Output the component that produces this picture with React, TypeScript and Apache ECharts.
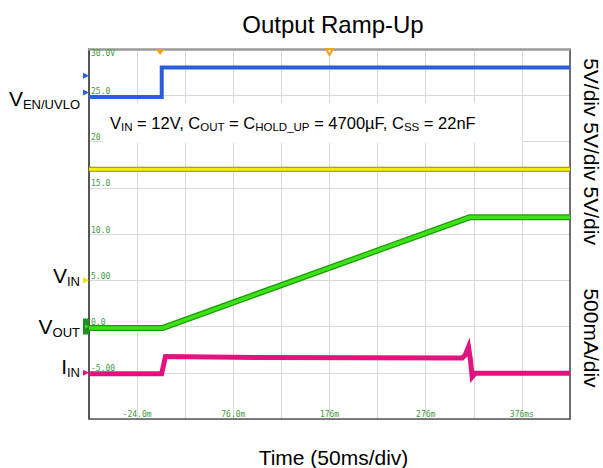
import React, { useEffect, useRef } from "react";
import * as echarts from "echarts";

// ---- axis scales (time in ms, volts on the scope's 5 V/div scale) ----
const timeMin = -74;
const timeMax = 426;
const timeStep = 50;
const voltMin = -10;
const voltMax = 30;
const voltStep = 5;

// ---- tick labels ----
const xTickValues = [-24, 76, 176, 276, 376];
const xTickLabels = ["-24.0m", "76.0m", "176m", "276m", "376ms"];
const yTickValues = [25, 20, 15, 10, 5, 0, -5];
const yTickLabels = ["25.0", "20", "15.0", "10.0", "5.00", "0.0", "-5.00"];
const yTopValue = 30;
const yTopLabel = "30.0V";

// ---- traces ----
const venTime = [-74, 1.6, 1.6, 426];
const venValues = [24.8, 24.8, 28.0, 28.0];

const vinTime = [-74, 426];
const vinValues = [17.0, 17.0];

const voutTime = [-74, 2.7, 321.5, 426];
const voutValues = [-0.15, -0.15, 11.8, 11.8];

const iinTime = [-74, 1.5, 5.5, 100, 314, 317, 320.5, 322.5, 324.3, 327.5, 426];
const iinValues = [-5.1, -5.1, -3.25, -3.35, -3.4, -3.1, -2.2, -3.6, -5.45, -5.05, -5.05];

// ---- channel marker levels ----
const venMarkers = [27.1, 25.3];
const vinMarker = 5;
const voutMarker = 0;
const iinMarker = -5;
const triggerTime = 0;
const centerTime = 176;

const FONT = "'Liberation Sans', Arial, Helvetica, sans-serif";
const MONO = "'DejaVu Sans Mono', 'Liberation Mono', monospace";
const LABEL_GREEN = "#3f9a3f";

const pairs = (xs: number[], ys: number[]) => xs.map((x, i) => [x, ys[i]]);

function lookup(values: number[], labels: string[], v: number) {
  const r = Math.round(v * 100) / 100;
  const i = values.indexOf(r);
  return i >= 0 ? labels[i] : "";
}

const leftMarker = (value: number, color: string, extra: any = {}) => ({
  coord: [timeMin, value],
  symbol: "triangle",
  symbolSize: [6, 6],
  symbolRotate: -90,
  symbolOffset: [-3, 0],
  itemStyle: { color },
  label: { show: false },
  ...extra,
});

function buildOption(): any {
  const lineSeries = (name: string, data: number[][], color: string, width: number, z: number, markPoint?: any) => ({
    name,
    type: "line",
    data,
    showSymbol: false,
    symbol: "none",
    lineStyle: { color, width, cap: "butt", join: "miter" },
    z,
    markPoint,
  });

  return {
    animation: false,
    backgroundColor: "#ffffff",
    grid: { left: 89, top: 49, right: 33, bottom: 49, containLabel: false },
    xAxis: [
      {
        type: "value",
        min: timeMin,
        max: timeMax,
        interval: timeStep,
        position: "bottom",
        axisLine: { show: true, onZero: false, lineStyle: { color: "#555", width: 1.5 } },
        axisTick: { show: false },
        splitLine: { show: true, lineStyle: { color: "#d9d9d9", width: 1 } },
        axisLabel: {
          inside: true,
          margin: 1,
          fontSize: 8,
          fontFamily: MONO,
          color: LABEL_GREEN,
          formatter: (v: number) => lookup(xTickValues, xTickLabels, v),
        },
      },
      {
        type: "value",
        min: timeMin,
        max: timeMax,
        interval: timeStep,
        position: "top",
        axisLine: { show: true, onZero: false, lineStyle: { color: "#9a9a9a", width: 2.5 } },
        axisTick: { show: false },
        splitLine: { show: false },
        axisLabel: { show: false },
      },
    ],
    yAxis: [
      {
        type: "value",
        min: voltMin,
        max: voltMax,
        interval: voltStep,
        position: "left",
        axisLine: { show: true, onZero: false, lineStyle: { color: "#222", width: 1.5 } },
        axisTick: { show: false },
        splitLine: { show: true, lineStyle: { color: "#d9d9d9", width: 1 } },
        axisLabel: {
          inside: true,
          margin: 2,
          verticalAlign: "bottom",
          fontSize: 8,
          fontFamily: MONO,
          color: LABEL_GREEN,
          formatter: (v: number) => lookup(yTickValues, yTickLabels, v),
        },
      },
      {
        type: "value",
        min: voltMin,
        max: voltMax,
        interval: voltStep,
        position: "left",
        axisLine: { show: false, onZero: false },
        axisTick: { show: false },
        splitLine: { show: false },
        axisLabel: {
          inside: true,
          margin: 2,
          verticalAlign: "top",
          fontSize: 8,
          fontFamily: MONO,
          color: LABEL_GREEN,
          showMaxLabel: true,
          formatter: (v: number) => (Math.round(v) === yTopValue ? yTopLabel : ""),
        },
      },
      {
        type: "value",
        min: voltMin,
        max: voltMax,
        interval: voltStep,
        position: "right",
        axisLine: { show: true, onZero: false, lineStyle: { color: "#444", width: 1.5 } },
        axisTick: { show: false },
        splitLine: { show: false },
        axisLabel: { show: false },
      },
    ],
    series: [
      lineSeries("VEN/UVLO", pairs(venTime, venValues), "#2b5fd9", 4, 3, {
        silent: true,
        data: [
          leftMarker(venMarkers[0], "#2b5fd9"),
          leftMarker(venMarkers[1], "#2b5fd9"),
          {
            coord: [triggerTime, voltMax],
            symbol: "triangle",
            symbolSize: [9, 6],
            symbolRotate: 180,
            symbolOffset: [0, 3],
            itemStyle: { color: "#f0a020" },
            label: { show: false },
          },
          {
            coord: [centerTime, voltMax],
            symbol: "emptyTriangle",
            symbolSize: [7, 6],
            symbolRotate: 180,
            symbolOffset: [0, 3],
            itemStyle: { color: "#f0a020", borderColor: "#f0a020", borderWidth: 1 },
            label: { show: false },
          },
        ],
      }),
      lineSeries("VIN edge", pairs(vinTime, vinValues), "#8f8f10", 5, 3),
      lineSeries("VIN", pairs(vinTime, vinValues), "#f0f000", 3, 4, {
        silent: true,
        data: [leftMarker(vinMarker, "#f0e000")],
      }),
      lineSeries("VOUT edge", pairs(voutTime, voutValues), "#18a000", 6, 3),
      lineSeries("VOUT", pairs(voutTime, voutValues), "#3ee01c", 3.5, 4, {
        silent: true,
        data: [
          {
            coord: [timeMin, voutMarker],
            symbol: "rect",
            symbolSize: [6, 16],
            symbolOffset: [-3, 0],
            itemStyle: { color: "#1f8f1f" },
            label: { show: false },
          },
          leftMarker(voutMarker, "#3ee01c", { symbolSize: [4, 4], symbolOffset: [-2, 0] }),
        ],
      }),
      lineSeries("IIN", pairs(iinTime, iinValues), "#e1137f", 5, 3, {
        silent: true,
        data: [leftMarker(iinMarker, "#e1137f")],
      }),
    ],
    graphic: [
      {
        type: "rect",
        silent: true,
        z: 1,
        shape: { x: 103, y: 103, width: 419, height: 40 },
        style: { fill: "#ffffff" },
      },
      {
        type: "text",
        z: 5,
        x: 333,
        y: 24,
        style: { text: "Output Ramp-Up", fontSize: 24, fontFamily: FONT, fill: "#000", align: "center", verticalAlign: "middle" },
      },
      {
        type: "text",
        z: 5,
        x: 333.5,
        y: 457.5,
        style: { text: "Time (50ms/div)", fontSize: 21, fontFamily: FONT, fill: "#000", align: "center", verticalAlign: "middle" },
      },
      {
        type: "text",
        z: 5,
        x: 591,
        y: 151.5,
        rotation: -Math.PI / 2,
        style: { text: "5V/div 5V/div 5V/div", fontSize: 21, fontFamily: FONT, fill: "#000", align: "center", verticalAlign: "middle" },
      },
      {
        type: "text",
        z: 5,
        x: 591,
        y: 338,
        rotation: -Math.PI / 2,
        style: { text: "500mA/div", fontSize: 21, fontFamily: FONT, fill: "#000", align: "center", verticalAlign: "middle" },
      },
      {
        type: "text",
        z: 5,
        x: 110,
        y: 123,
        style: {
          text: "{m|V}{s|IN}{m| = 12V, C}{s|OUT}{m| = C}{s|HOLD_UP}{m| = 4700µF, C}{s|SS}{m| = 22nF}",
          align: "left",
          verticalAlign: "middle",
          rich: {
            m: { fontSize: 16.5, lineHeight: 20, fontFamily: FONT, fill: "#000" },
            s: { fontSize: 11.5, lineHeight: 12, verticalAlign: "bottom", fontFamily: FONT, fill: "#000" },
          },
        },
      },
      ...[
        { t: "{m|V}{s|EN/UVLO}", y: 98.5 },
        { t: "{m|V}{s|IN}", y: 275.8 },
        { t: "{m|V}{s|OUT}", y: 326.5 },
        { t: "{m|I}{s|IN}", y: 366.5 },
      ].map((l) => ({
        type: "text",
        z: 5,
        x: 80,
        y: l.y,
        style: {
          text: l.t,
          align: "right",
          verticalAlign: "middle",
          rich: {
            m: { fontSize: 21, lineHeight: 24, fontFamily: FONT, fill: "#000" },
            s: { fontSize: 13, lineHeight: 16, verticalAlign: "bottom", fontFamily: FONT, fill: "#000" },
          },
        },
      })),
    ],
  };
}

export default function App() {
  const ref = useRef<HTMLDivElement>(null);
  useEffect(() => {
    if (!ref.current) return;
    const chart = echarts.init(ref.current, undefined, { renderer: "svg" });
    chart.setOption(buildOption());
    return () => chart.dispose();
  }, []);
  return (
    <div
      ref={ref}
      style={{ position: "fixed", left: 0, top: 0, width: 603, height: 468, background: "#fff" }}
    />
  );
}
